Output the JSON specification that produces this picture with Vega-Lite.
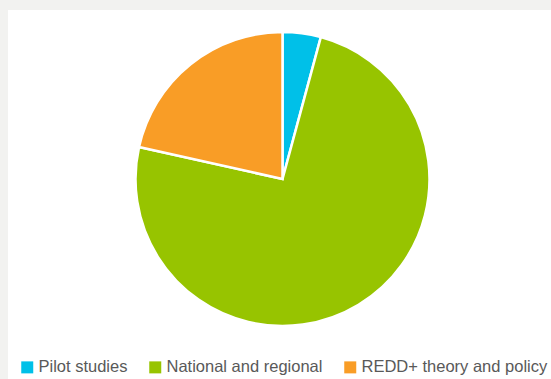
{
  "$schema": "https://vega.github.io/schema/vega-lite/v6.json",
  "width": 611,
  "height": 400,
  "autosize": {"type": "none"},
  "padding": {"left": -23, "top": -21, "right": -37, "bottom": 0},
  "background": "white",
  "view": {"fill": "white", "stroke": "#f2f2f0", "strokeWidth": 62, "strokeDash": [611, 1011, 400, 0]},
  "config": {
    "style": {
      "view": {"fill": "white", "stroke": "#f2f2f0", "strokeWidth": 62, "strokeDash": [611, 1011, 400, 0]},
      "cell": {"fill": "white", "stroke": "#f2f2f0", "strokeWidth": 62, "strokeDash": [611, 1011, 400, 0]}
    }
  },
  "data": {
    "values": [
      {"topic": "Pilot studies", "share": 4.2, "rank": 1},
      {"topic": "National and regional", "share": 74.3, "rank": 2},
      {"topic": "REDD+ theory and policy", "share": 21.5, "rank": 3}
    ]
  },
  "mark": {"type": "arc", "outerRadius": 147, "stroke": "white", "strokeWidth": 2.5},
  "encoding": {
    "theta": {"field": "share", "type": "quantitative", "stack": true},
    "order": {"field": "rank", "type": "quantitative"},
    "color": {
      "field": "topic",
      "type": "nominal",
      "scale": {
        "domain": ["Pilot studies", "National and regional", "REDD+ theory and policy"],
        "range": ["#00c0e8", "#97c400", "#f99d26"]
      },
      "legend": {
        "orient": "none",
        "legendX": 42,
        "legendY": 380,
        "direction": "horizontal",
        "title": null,
        "symbolType": "square",
        "symbolSize": 144,
        "symbolStrokeWidth": 0,
        "symbolOpacity": 1,
        "labelFont": "Liberation Sans",
        "labelFontSize": 16.5,
        "labelColor": "#595959",
        "labelOffset": 3,
        "labelLimit": 0,
        "columnPadding": 19,
        "padding": 0
      }
    }
  }
}
